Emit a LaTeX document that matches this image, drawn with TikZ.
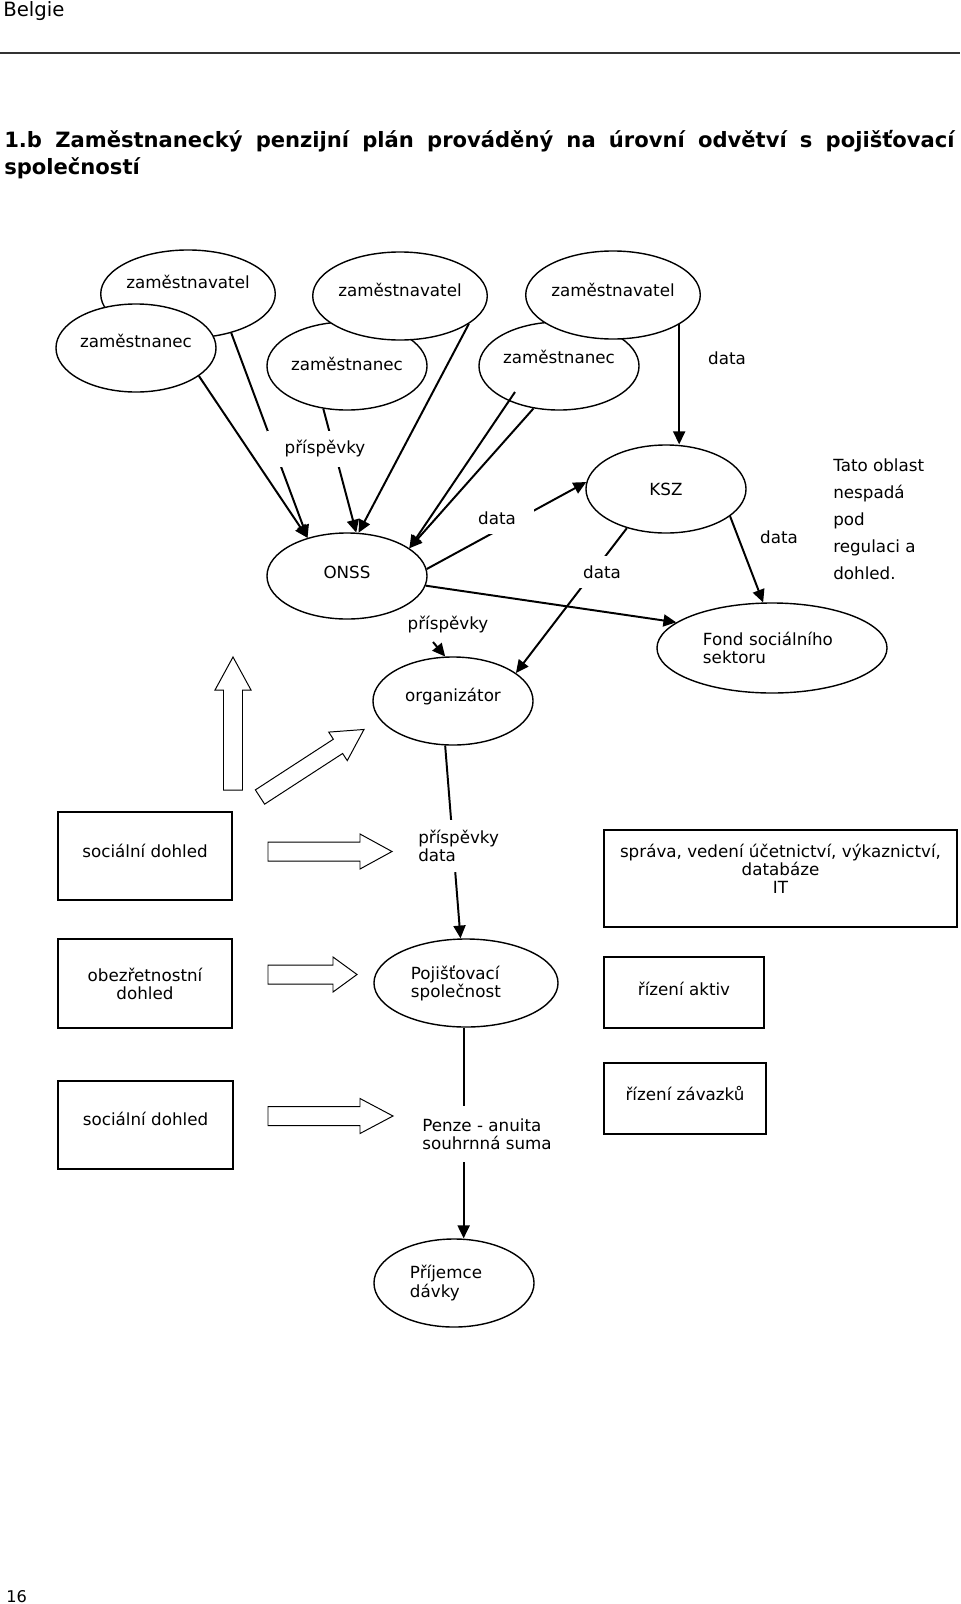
\documentclass[tikz,border=0pt]{standalone}
\usepackage{fontspec}
\setmainfont{DejaVu Sans}
\usetikzlibrary{arrows.meta,shapes.geometric}
\newcommand{\diagfont}{\fontsize{11.9}{12.9}\selectfont}
\newcommand{\notefont}{\fontsize{11.9}{19.2}\selectfont}
\newcommand{\titlefont}{\fontsize{15}{19.2}\selectfont\bfseries}
\newcommand{\headfont}{\fontsize{14}{17}\selectfont}
\newcommand{\pagefont}{\fontsize{11.5}{13}\selectfont}

\begin{document}
\begin{tikzpicture}[x=0.025cm,y=-0.025cm,
    oval/.style={draw,ellipse,fill=white,line width=1pt,inner sep=0pt,
      minimum width=4cm,minimum height=2.2cm,font=\diagfont},
    box/.style={draw,line width=1pt,inner sep=0pt,align=center,font=\diagfont},
    conn/.style={line width=1.4pt,-{Triangle[length=0.32cm,width=0.3cm]}},
    lbl/.style={fill=white,inner xsep=0.45cm,inner ysep=0.25cm,font=\diagfont,align=left},
    note/.style={inner sep=0pt,font=\diagfont,align=left},
    hollow/.style={draw,line width=0.7pt,fill=white}]
     \useasboundingbox (0,0) rectangle (960,1604);
     \node[anchor=base west,inner sep=0pt,font=\headfont] (hdr) at (3,17) {Belgie};
     \draw[line width=1.2pt,black!80] (0,53) -- (960,53);
     \node[anchor=base west,inner sep=0pt,font=\titlefont] (title) at (4,147)
        {\makebox[23.75cm][s]{1.b Zaměstnanecký penzijní plán prováděný na úrovní odvětví s pojišťovací}};
     \node[anchor=base west,inner sep=0pt,font=\titlefont] (title2) at (4,174) {společností};
     \node[anchor=base west,inner sep=0pt,font=\pagefont] (pgno) at (6,1602) {16};

     \node[oval,text depth=0.6cm] (zv1) at (188,294) {zaměstnavatel};
     \node[oval,text depth=0.35cm] (zn1) at (136,348) {zaměstnanec};
     \node[oval,text depth=0.1cm] (zn2) at (347,366) {zaměstnanec};
     \node[oval,text depth=0.3cm] (zv2) at (400,296) {zaměstnavatel};
     \node[oval,text depth=0.45cm] (zn3) at (559,366) {zaměstnanec};
     \node[oval,text depth=0.25cm] (zv3) at (613,295) {zaměstnavatel};
     \node[oval,minimum height=2.15cm,text depth=0.2cm] (onss) at (347,576) {ONSS};
     \node[oval] (ksz) at (666,489) {KSZ};
     \node[oval,minimum width=5.75cm,minimum height=2.25cm,text width=3.45cm,align=left]
        (fond) at (772,648) {Fond sociálního\\sektoru};
     \node[oval,text depth=0.3cm] (org) at (453,701) {organizátor};
     \node[oval,minimum width=4.6cm,text width=2.75cm,align=left]
        (poj) at (466,983) {Pojišťovací\\společnost};
     \node[oval,text width=2.2cm,align=left] (prij) at (454,1283) {Příjemce\\dávky};

     \node[box,minimum width=4.35cm,minimum height=2.2cm,text depth=0.25cm] (sd1) at (145,856) {sociální dohled};
     \node[box,minimum width=8.825cm,minimum height=2.425cm,text depth=0.5cm] (sprava) at (780.5,878.5)
        {správa, vedení účetnictví, výkaznictví,\\databáze\\IT};
     \node[box,minimum width=4.35cm,minimum height=2.225cm] (obez) at (145,983.5) {obezřetnostní\\dohled};
     \node[box,minimum width=4cm,minimum height=1.775cm,text depth=0.2cm] (aktiv) at (684,992.5) {řízení aktiv};
     \node[box,minimum width=4.375cm,minimum height=2.2cm,text depth=0.3cm] (sd3) at (145.5,1125) {sociální dohled};
     \node[box,minimum width=4.05cm,minimum height=1.775cm,text depth=0.25cm] (zavazku) at (685,1098.5) {řízení závazků};

     \draw[hollow,shift={(233,790)},rotate=90] (0,-9.5) -- (100,-9.5) -- (100,-18) -- (133,0)
        -- (100,18) -- (100,9.5) -- (0,9.5) -- cycle;
     \draw[hollow,shift={(260,797)},rotate=33] (0,-8.5) -- (93,-8.5) -- (93,-17) -- (124,0)
        -- (93,17) -- (93,8.5) -- (0,8.5) -- cycle;
     \foreach \y/\l/\h in {851.5/124/32, 974.5/89/24, 1116/125/33} {
      \draw[hollow,shift={(268,\y)}] (0,-9.5) -- ({\l-\h},-9.5) -- ({\l-\h},-17.5) -- (\l,0)
        -- ({\l-\h},17.5) -- ({\l-\h},9.5) -- (0,9.5) -- cycle;
     }

     \coordinate (p2s) at (433,642);
     \draw[conn] (zn1.-24) -- (onss.136);
     \draw[conn] (zv1.-42) -- (onss.136);
     \draw[conn] (zn2.-119) -- (onss.78);
     \draw[conn] (zv2.-22) -- (onss.75);
     \draw[conn] ([shift={(-44,26)}]zn3.center) -- (onss.24);
     \draw[conn] (zn3.-121) -- (onss.24);
     \draw[conn] (zv3.-24) -- (zv3.-24 |- ksz.north);
     \draw[conn] (onss.5) -- (ksz.175);
     \draw[conn] (onss.-7) -- (fond.165);
     \draw[conn] (ksz.-135) -- (org.24);
     \draw[conn] (ksz.-23) -- (fond.101);
     \draw[conn] (p2s) -- (org.100);
     \draw[conn] (org.-100) -- (poj.97);
     \draw[conn] (poj.-93) -- (poj.-93 |- prij.north);

     \node[lbl] (lblp1) at (325,449) {příspěvky};
     \node[lbl] (lbld1) at (497,518) {data};
     \node[lbl] (lbld2) at (602,572) {data};
     \node[lbl,inner xsep=0.1cm,inner ysep=0.1cm] (lblp2) at (448,625) {příspěvky};
     \node[lbl,anchor=west] (lblpd) at (400,846) {příspěvky\\data};
     \node[lbl,anchor=west,inner ysep=0.3cm] (lblpenze) at (404,1134) {Penze - anuita\\souhrnná suma};
     \node[note] (lbld3) at (727,358) {data};
     \node[note] (lbld4) at (779,537) {data};
     \node[note,anchor=west,font=\notefont] (tato) at (833,519)
        {Tato oblast\\nespadá\\pod\\regulaci a\\dohled.};
    \end{tikzpicture}
\end{document}
